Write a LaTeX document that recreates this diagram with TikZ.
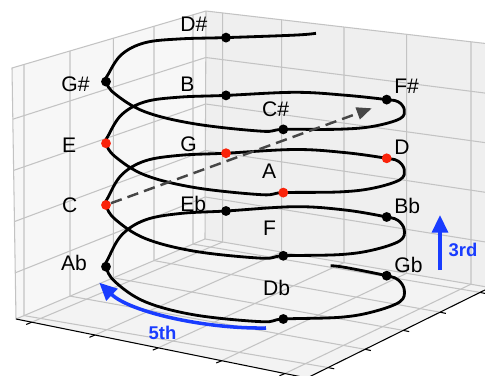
\documentclass[tikz,border=0pt]{standalone}
\usepackage{fontspec}
\setmainfont{Liberation Sans}
\usetikzlibrary{arrows.meta}
\definecolor{notered}{RGB}{250,35,10}
\definecolor{intblue}{RGB}{25,60,255}
\definecolor{dashgray}{RGB}{70,70,70}
\definecolor{gridgray}{RGB}{195,195,195}
\definecolor{paneleft}{RGB}{247,247,247}
\definecolor{paneright}{RGB}{239,239,239}
\definecolor{panefloor}{RGB}{243,243,243}
\tikzset{
  gridline/.style={gridgray, line width=0.6pt},
  axisline/.style={black, line width=0.6pt},
  helix/.style={line width=1.6pt, line join=round},
  note/.style={circle, fill=black, inner sep=0pt, minimum size=5.6pt},
  hot/.style={note, fill=notered},
  lab/.style={anchor=west, inner sep=0pt, font=\fontsize{12}{14}\selectfont},
  interval/.style={intblue, line width=2pt, -{Triangle[length=10pt,width=9pt]}},
  intlab/.style={intblue, inner sep=0pt, font=\fontsize{10.5}{12}\selectfont\bfseries},
}
% one turn of the spiral: angle/x/y/rise per turn
\def\turn{0/386.7/275.7/58.7, 12/398.3/280/59.4, 25/404.3/290/60.1, 40/400/301.7/61.0, 55/373.3/311.7/61.8, 72/340/317.3/62.7, 90/283.3/319/63.2, 100/261.7/321.7/63.5, 125/195/315/63.7, 145/145/301.7/63.3, 165/115/281.7/62.6, 180/106/266.7/61.7, 190/108.3/258.3/61.4, 210/121.7/235/60.2, 228/145/220/59.1, 248/180/213.5/58.2, 270/226/211/57.8, 300/295/206.7/57.2, 322/345/210/57.4}
\begin{document}
\begin{tikzpicture}[x=0.02cm, y=-0.02cm]
\useasboundingbox (0,0) rectangle (485,376);
\clip (0,0) rectangle (485,376);
% box of the 3d axes
\coordinate (LT) at (12,68);
\coordinate (BT) at (206,11);
\coordinate (RT) at (490,44);
\coordinate (LB) at (16,319);
\coordinate (BB) at (205,239);
\coordinate (RB) at (490,287.5);
\coordinate (FB) at (307,378);
\fill[paneleft] (LT)--(BT)--(BB)--(LB)--cycle;
\fill[paneright] (BT)--(RT)--(RB)--(BB)--cycle;
\fill[panefloor] (LB)--(BB)--(RB)--(FB)--cycle;
% grid
\foreach \xa/\ya/\xb/\yb/\xc/\yc in {24/64.5/24/315.6/328.3/367.6, 70/51/70/296.1/365/349.3, 113.3/38.2/113.3/277.8/403.3/330.4, 154/26.3/154/260.6/440/312.2, 193/14.8/193/244.1/480/292.4,
  222.7/12.9/222.7/242/31.7/322.2, 281.7/19.8/281.7/252/95/335, 344/27/344/262.6/158.3/347.8, 406.7/34.3/406.7/273.3/221.7/360.7, 471/41.8/471/284.2/285/373.5,
  15.3/272.8/205.2/197/490/242.7, 14.4/221.6/205.4/150.5/490/193, 13.6/170.4/205.6/104/490/143.3, 12.8/119.2/205.8/57.5/490/93.7}
  \draw[gridline] (\xa,\ya)--(\xb,\yb)--(\xc,\yc);
\draw[gridline] (LB)--(LT)--(BT)--(RT) (BT)--(BB) (LB)--(BB)--(RB);
% axes with ticks
\draw[axisline] (LB)--(FB)--(RB);
\foreach \xa/\ya in {31.7/322.2, 95/335, 158.3/347.8, 221.7/360.7, 285/373.5}
  \draw[axisline] (\xa,\ya)--++(-5.5,2.3);
\foreach \xa/\ya in {328.3/367.6, 365/349.3, 403.3/330.4, 440/312.2, 480/292.4}
  \draw[axisline] (\xa,\ya)--++(5.9,1.2);
% spiral
\xdef\pts{(330.7,265.7) (345,267.4)}
\foreach \turnno in {0,...,3}{
  \foreach \ph/\px/\py/\pr in \turn{
    \pgfmathtruncatemacro\ang{360*\turnno+\ph}
    \ifnum\ang<1390
      \pgfmathsetmacro\qy{\py-\turnno*\pr}
      \xdef\pts{\pts (\px,\qy)}
    \fi
  }
}
\xdef\pts{\pts (316,33.3)}
\edef\helixpath{\noexpand\draw[helix] plot[smooth,tension=0.6] coordinates {\pts};}
\helixpath
% pitches
\node[note] (Gb) at (386.7,275.7) {};
\node[note] (Db) at (283.3,319) {};
\node[note] (Ab) at (106,266.7) {};
\node[note] (Eb) at (226,211) {};
\node[note] (Bb) at (386.7,217) {};
\node[note] (F) at (283.3,255.8) {};
\node[hot] (C) at (106,205) {};
\node[hot] (G) at (226,153.2) {};
\node[hot] (D) at (386.7,158.3) {};
\node[hot] (A) at (283.3,192.6) {};
\node[hot] (E) at (106,143.3) {};
\node[note] (B) at (226,95.4) {};
\node[note] (Fs) at (386.7,99.6) {};
\node[note] (Cs) at (283.3,129.4) {};
\node[note] (Gs) at (106,81.6) {};
\node[note] (Ds) at (226,37.6) {};
\coordinate (dashtip) at (371.7,108.3);
\draw[dashgray, line width=1.4pt, dash pattern=on 6.5pt off 3.5pt, -{Triangle[length=8.5pt,width=7pt]}] (C)--(dashtip);
\node[lab] (lDs) at (180,24.2) {D\#};
\node[lab] (lGs) at (61,84.7) {G\#};
\node[lab] (lB) at (180,84) {B};
\node[lab] (lE) at (61.7,145) {E};
\node[lab] (lG) at (180,144) {G};
\node[lab] (lCs) at (261.7,109) {C\#};
\node[lab] (lFs) at (394,86) {F\#};
\node[lab] (lD) at (394,147) {D};
\node[lab] (lA) at (261.7,171) {A};
\node[lab] (lC) at (61.7,205) {C};
\node[lab] (lEb) at (180,204) {Eb};
\node[lab] (lAb) at (60.7,263.3) {Ab};
\node[lab] (lBb) at (394,206) {Bb};
\node[lab] (lF) at (262.7,228) {F};
\node[lab] (lGb) at (394,265) {Gb};
\node[lab] (lDb) at (262.7,288) {Db};
% intervals
\coordinate (fifthS) at (266,328);
\coordinate (fifthE) at (99.3,282.7);
\draw[interval] (fifthS) .. controls (205,329) and (130,312) .. (fifthE);
\node[intlab] (fifth) at (162.5,333) {5th};
\coordinate (thirdS) at (440,270);
\coordinate (thirdE) at (440,215);
\draw[interval] (thirdS)--(thirdE);
\node[intlab] (third) at (463,250) {3rd};
\end{tikzpicture}
\end{document}
